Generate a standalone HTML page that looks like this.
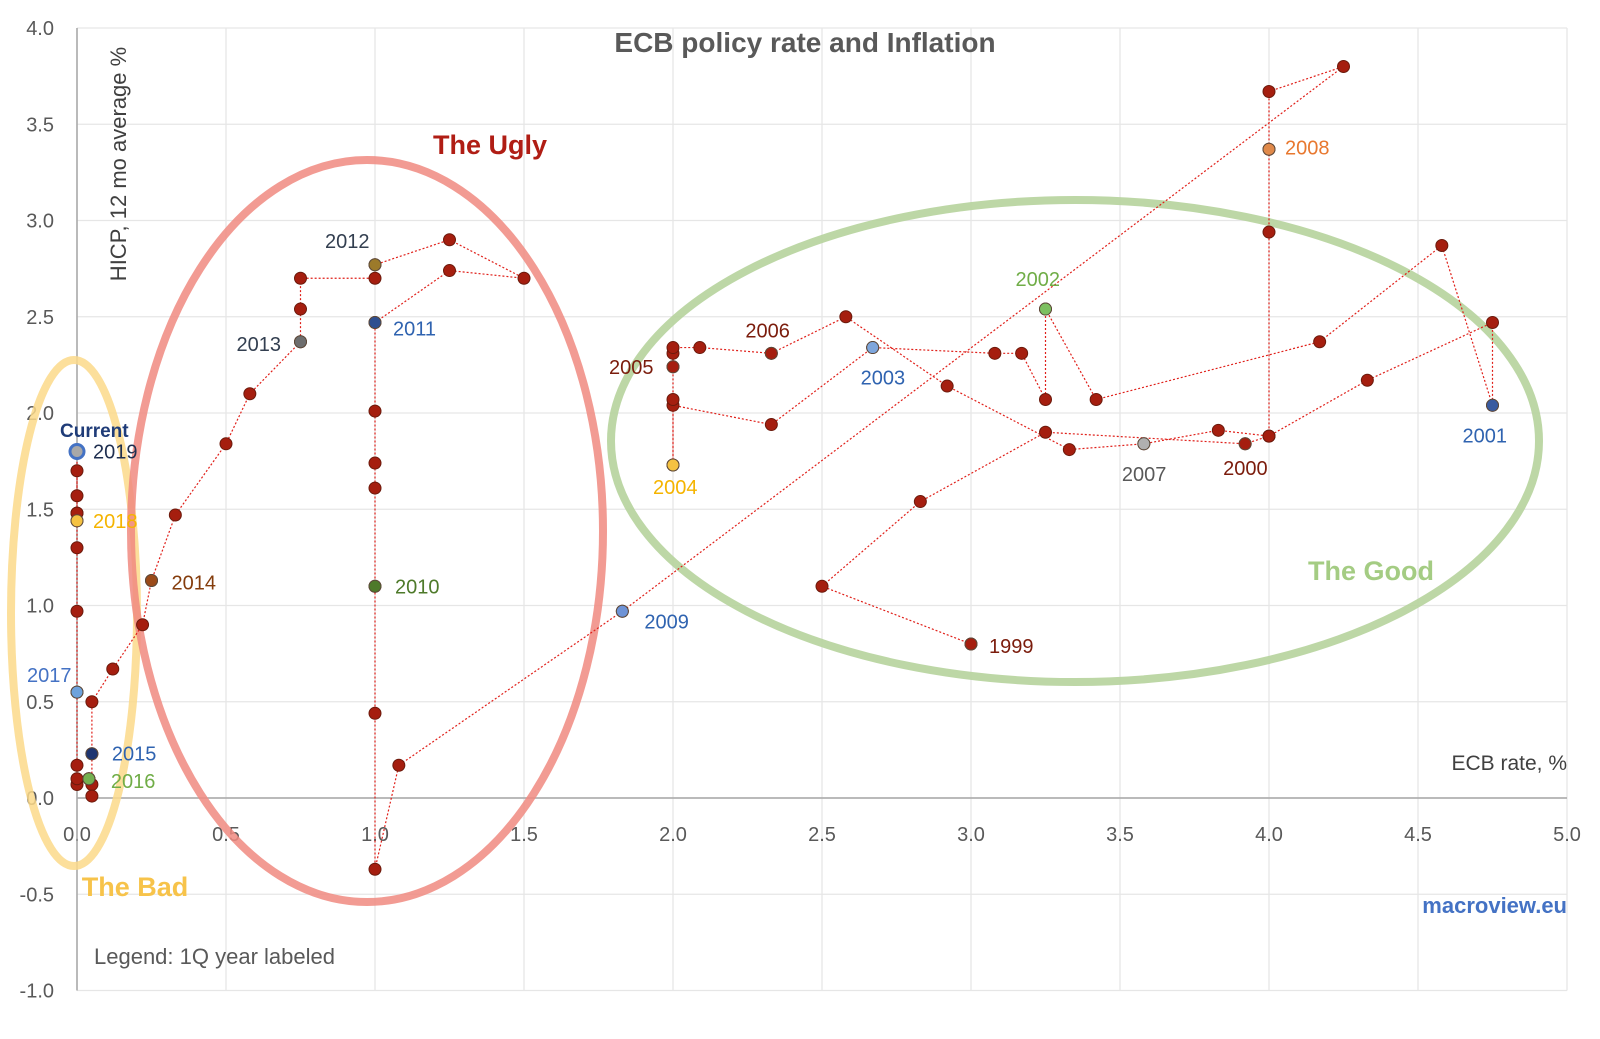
<!DOCTYPE html>
<html><head><meta charset="utf-8"><style>
body{margin:0;background:#fff;font-family:"Liberation Sans",sans-serif}
svg text{font-family:"Liberation Sans",sans-serif}
</style></head><body>
<svg id="chart" width="1600" height="1034" viewBox="0 0 1600 1034">
<rect width="1600" height="1034" fill="#fff"/>
<g id="grid"></g>
<g id="axes"></g>
<g>
<ellipse cx="74" cy="613" rx="63" ry="253" fill="none" stroke="#fbd98a" stroke-width="8" opacity="0.85"/>
<ellipse cx="367" cy="531" rx="236" ry="371" fill="none" stroke="#f08a80" stroke-width="8" opacity="0.85"/>
<ellipse cx="1075" cy="441" rx="464" ry="241" fill="none" stroke="#b6d39c" stroke-width="8" opacity="0.9"/>
</g>
<g id="series"></g>
<text x="805" y="52" text-anchor="middle" font-size="28" font-weight="bold" fill="#595959">ECB policy rate and Inflation</text>
<text transform="translate(126,164) rotate(-90)" text-anchor="middle" font-size="22" fill="#404040">HICP, 12 mo average %</text>
<text x="1567" y="770" text-anchor="end" font-size="21" fill="#404040">ECB rate, %</text>
<text x="490" y="154" text-anchor="middle" font-size="27" font-weight="bold" fill="#b01d14">The Ugly</text>
<text x="1371" y="580" text-anchor="middle" font-size="27" font-weight="bold" fill="#a4cc83">The Good</text>
<text x="135" y="896" text-anchor="middle" font-size="27" font-weight="bold" fill="#f7c34a">The Bad</text>
<text x="1567" y="913" text-anchor="end" font-size="22" font-weight="bold" fill="#4472c4">macroview.eu</text>
<text x="94" y="964" font-size="22" fill="#595959">Legend: 1Q year labeled</text>
<text x="60" y="437" font-size="19" font-weight="bold" fill="#1f3c78">Current</text>
</svg>
<script>
const xTicks=[0,0.5,1,1.5,2,2.5,3,3.5,4,4.5,5];
const yTicks=[-1,-0.5,0,0.5,1,1.5,2,2.5,3,3.5,4];
const rates=[3.0,2.5,2.83,3.25, 3.92,4.0,4.33,4.75, 4.75,4.58,4.17,3.42, 3.25,3.25,3.17,3.08, 2.67,2.33,2.0,2.0, 2.0,2.0,2.0,2.0, 2.09,2.33,2.58,2.92, 3.33,3.58,3.83,4.0,4.0, 4.0,4.0,4.25, 1.83,1.08,1.0,1.0, 1.0,1.0,1.0,1.0, 1.0,1.25,1.5,1.25, 1.0,1.0,0.75,0.75, 0.75,0.58,0.5,0.33, 0.25,0.22,0.12,0.05, 0.05,0.05,0.05,0.04, 0.04,0,0,0, 0,0,0,0, 0,0,0,0, 0];
const hicp=[0.80,1.10,1.54,1.90, 1.84,1.88,2.17,2.47, 2.04,2.87,2.37,2.07, 2.54,2.07,2.31,2.31, 2.34,1.94,2.04,2.07, 1.73,2.24,2.31,2.34, 2.34,2.31,2.50,2.14, 1.81,1.84,1.91,1.88,2.94, 3.37,3.67,3.80, 0.97,0.17,-0.37,0.44, 1.10,1.61,1.74,2.01, 2.47,2.74,2.70,2.90, 2.77,2.70,2.70,2.54, 2.37,2.10,1.84,1.47, 1.13,0.90,0.67,0.50, 0.23,0.07,0.01,0.10, 0.10,0.07,0.10,0.17, 0.55,0.97,1.30,1.48, 1.44,1.57,1.70,1.48, 1.80];
const labelYears=["1999","2000","2001","2002","2003","2004","2005","2006","2007","2008","2009","2010","2011","2012","2013","2014","2015","2016","2017","2018","2019"];
const labelIdx=[0,4,8,12,16,20,21,25,29,33,36,40,44,48,52,56,60,64,68,72,76];
const labelColors=["#7b1c0c","#7b1c0c","#2f63b0","#70ad47","#2f63b0","#f5b400","#7b1c0c","#7b1c0c","#595959","#e8782f","#2f63b0","#4e7a2a","#2f63b0","#333f50","#333f50","#843c0c","#2f63b0","#70ad47","#4472c4","#f5b400","#1f2f50"];
const dotColors=["#a51e0f","#a51e0f","#3a5ba0","#7cc060","#7ea6dc","#f5c242","#a51e0f","#a51e0f","#b0b0b0","#e0894a","#6e93d6","#4e7a2a","#2f4f90","#9c7a2a","#6e6e6e","#9b4a18","#1f3570","#74b050","#6fa2dc","#f5c242","#a8a8a8"];
const labelOff=[[18,2],[-22,24],[-30,30],[-30,-30],[-12,30],[-20,22],[-64,0],[-26,-23],[-22,30],[16,-2],[22,10],[20,0],[18,6],[-50,-24],[-64,2],[20,2],[20,0],[22,2],[-50,-17],[16,0],[16,0]];
const NS="http://www.w3.org/2000/svg";
const X=v=>77+v*298, Y=v=>798-v*192.5;
function mk(t,a,p){const e=document.createElementNS(NS,t);for(const k in a)e.setAttribute(k,a[k]);p.appendChild(e);return e;}
const grid=document.getElementById('grid'),axes=document.getElementById('axes'),ser=document.getElementById('series');
xTicks.forEach(v=>{
 const l=mk('line',{x1:X(v),x2:X(v),y1:Y(4),y2:Y(-1),stroke:'#e6e6e6','stroke-width':1.3},grid);
 
 
 const t=mk('text',{x:X(v),y:Y(0)+43,'text-anchor':'middle','font-size':20,fill:'#595959'},axes);
 t.textContent=v.toFixed(1);
 
 
});
yTicks.forEach(v=>{
 const l=mk('line',{x1:X(0),x2:X(5),y1:Y(v),y2:Y(v),stroke:'#e6e6e6','stroke-width':1.3},grid);
 
 
 const t=mk('text',{x:54,y:Y(v)+7,'text-anchor':'end','font-size':20,fill:'#595959'},axes);
 t.textContent=v.toFixed(1);
 
 
});
const xa=mk('line',{x1:X(0),x2:X(5),y1:Y(0),y2:Y(0),stroke:'#a6a6a6','stroke-width':1.5},axes);


const ya=mk('line',{x1:X(0),x2:X(0),y1:Y(4),y2:Y(-1),stroke:'#a6a6a6','stroke-width':1.5},axes);


const pl=mk('polyline',{points:rates.map((r,i)=>X(r)+','+Y(hicp[i])).join(' '),fill:'none',stroke:'#e0201a','stroke-width':1.2,'stroke-dasharray':'2,2'},ser);


rates.forEach((r,i)=>{
 const c=mk('circle',{cx:X(r),cy:Y(hicp[i]),r:6,fill:'#a51e0f',stroke:'#6b1a0c','stroke-width':1},ser);
 
 
});
labelIdx.forEach((idx,k)=>{
 const last=k===labelIdx.length-1;
 const c=mk('circle',{cx:X(rates[idx]),cy:Y(hicp[idx]),r:last?7:6,fill:dotColors[k],stroke:last?'#4472c4':'#5a4a3a','stroke-width':last?3:1},ser);
 
 
 const t=mk('text',{x:X(rates[idx])+labelOff[k][0],y:Y(hicp[idx])+labelOff[k][1]+7,'font-size':20,fill:labelColors[k]},ser);
 t.textContent=labelYears[k];
 
 
});
</script>
</body></html>
